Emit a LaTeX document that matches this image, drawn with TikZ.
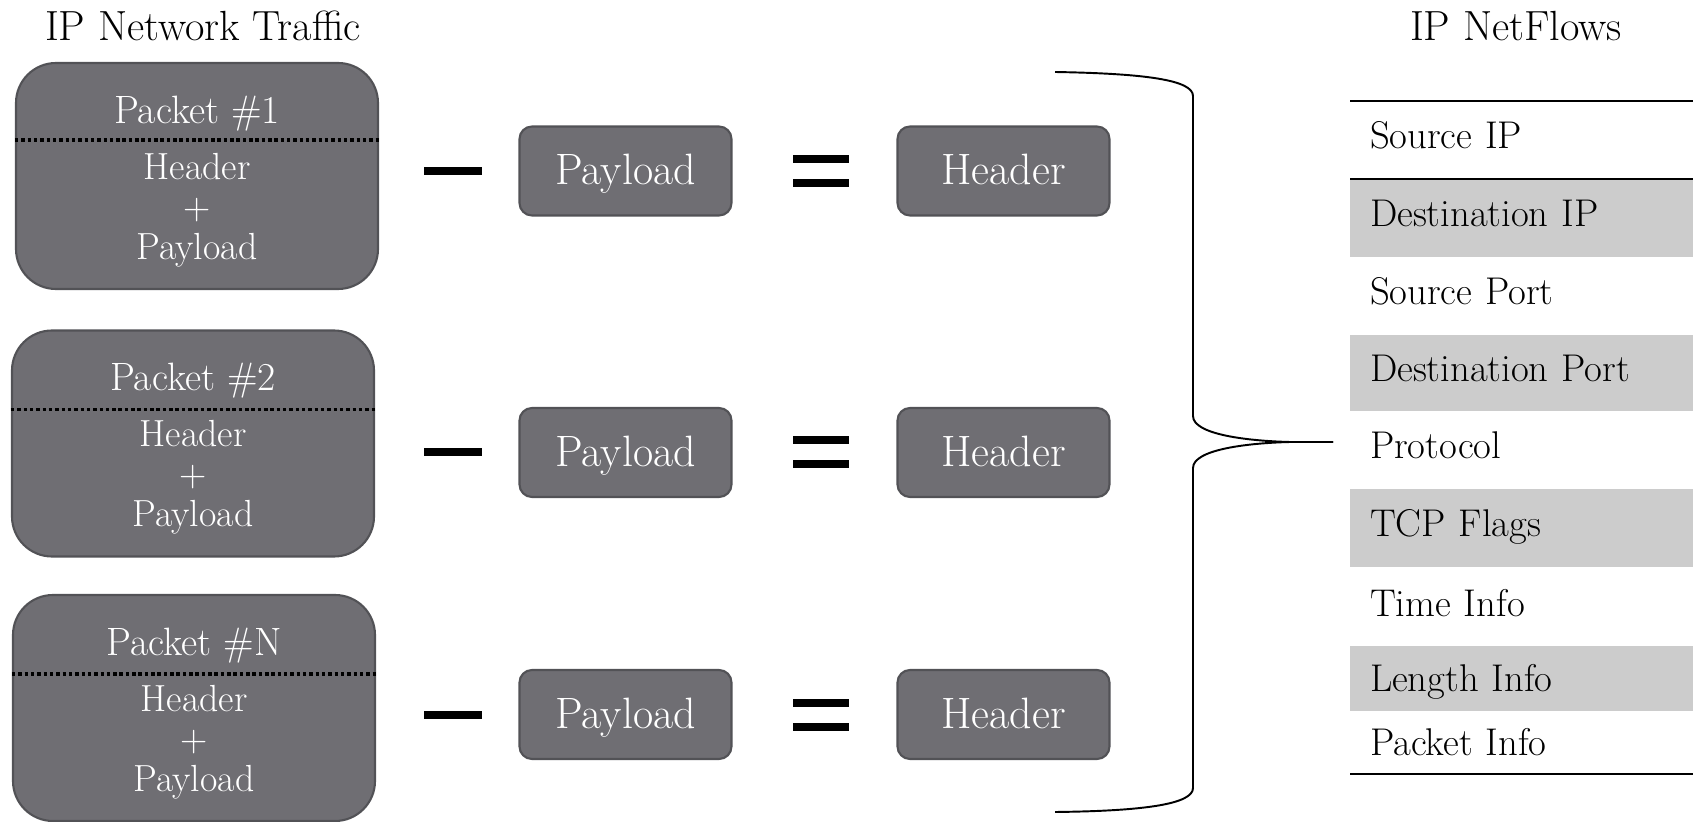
\documentclass[tikz,border=0pt]{standalone}
\usepackage{fontspec}
\usepackage{tikz}
\usetikzlibrary{positioning}
\definecolor{NfBoxGray}{RGB}{111,110,115}
\definecolor{NfEdgeGray}{RGB}{82,82,86}
\definecolor{NfRowGray}{RGB}{204,204,204}
\tikzset{
  nf/packet/.style={
    draw=NfEdgeGray,
    line width=1.2pt,
    rounded corners=0.8cm,
    fill=NfBoxGray,
    minimum width=7.24cm,
    minimum height=4.52cm
  },
  nf/pkttitle/.style={text=white, inner sep=0pt, font=\fontsize{22.5}{26}\selectfont},
  nf/pktbody/.style={text=white, inner sep=0pt, align=center, font=\fontsize{21.5}{22.8}\selectfont},
  nf/pktline/.style={draw=black, line width=2pt, dash pattern=on 2pt off 1.6pt},
  nf/box/.style={
    draw=NfEdgeGray,
    line width=1.2pt,
    rounded corners=0.25cm,
    fill=NfBoxGray,
    text=white,
    minimum width=4.24cm,
    minimum height=1.78cm,
    text height=0.56cm,
    text depth=0pt,
    font=\fontsize{25}{29}\selectfont
  },
  nf/minus/.style={fill=black, inner sep=0pt, minimum width=1.16cm, minimum height=0.16cm},
  nf/eqbar/.style={fill=black, inner sep=0pt, minimum width=1.12cm, minimum height=0.16cm},
  nf/title/.style={font=\fontsize{24}{28}\selectfont},
  nf/row/.style={
    anchor=north west,
    outer sep=0pt,
    minimum width=6.86cm,
    text width=6.06cm,
    inner xsep=0.4cm,
    inner ysep=0pt,
    minimum height=1.56cm,
    text height=0.53cm,
    text depth=0.2cm,
    align=left,
    font=\fontsize{22}{26}\selectfont
  },
  nf/grayrow/.style={nf/row, fill=NfRowGray},
  nf/rule/.style={line width=1.6pt},
  nf/brace/.style={line width=1.1pt}
}
\begin{document}
\begin{tikzpicture}[x=1cm,y=1cm]
  \useasboundingbox (0,0) rectangle (33.86,16.42);

  \node[nf/title] (traffic) at (4.06,15.9) {IP Network Traffic};
  \node[nf/title] (netflows) at (30.32,15.9) {IP NetFlows};

  % packets
  \node[nf/packet] (p1) at (3.94,12.9) {};
  \node[nf/pkttitle] (p1title) at ([yshift=-1.03cm]p1.north) {Packet \#1};
  \draw[nf/pktline] ([yshift=-1.56cm]p1.north west) -- ([yshift=-1.56cm]p1.north east);
  \node[nf/pktbody] (p1body) at ([yshift=-2.96cm]p1.north) {Header\\+\\Payload};

  \node[nf/packet] (p2) at (3.86,7.55) {};
  \node[nf/pkttitle] (p2title) at ([yshift=-1.03cm]p2.north) {Packet \#2};
  \draw[nf/pktline] ([yshift=-1.6cm]p2.north west) -- ([yshift=-1.6cm]p2.north east);
  \node[nf/pktbody] (p2body) at ([yshift=-2.96cm]p2.north) {Header\\+\\Payload};

  \node[nf/packet] (pn) at (3.88,2.26) {};
  \node[nf/pkttitle] (pntitle) at ([yshift=-1.03cm]pn.north) {Packet \#N};
  \draw[nf/pktline] ([yshift=-1.6cm]pn.north west) -- ([yshift=-1.6cm]pn.north east);
  \node[nf/pktbody] (pnbody) at ([yshift=-2.96cm]pn.north) {Header\\+\\Payload};

  % minus payload equals header
  \node[nf/minus] (minus1) at (9.06,13.0) {};
  \node[nf/box] (pay1) at (12.51,13.0) {Payload};
  \node[nf/eqbar] (eq1a) at (16.42,13.24) {};
  \node[nf/eqbar] (eq1b) at (16.42,12.76) {};
  \node[nf/box] (head1) at (20.07,13.0) {Header};

  \node[nf/minus] (minus2) at (9.06,7.37) {};
  \node[nf/box] (pay2) at (12.51,7.37) {Payload};
  \node[nf/eqbar] (eq2a) at (16.42,7.61) {};
  \node[nf/eqbar] (eq2b) at (16.42,7.13) {};
  \node[nf/box] (head2) at (20.07,7.37) {Header};

  \node[nf/minus] (minus3) at (9.06,2.13) {};
  \node[nf/box] (pay3) at (12.51,2.13) {Payload};
  \node[nf/eqbar] (eq3a) at (16.42,2.37) {};
  \node[nf/eqbar] (eq3b) at (16.42,1.89) {};
  \node[nf/box] (head3) at (20.07,2.13) {Header};

  % brace
  \coordinate (bracetop) at (21.1,14.98);
  \coordinate (bracebot) at (21.1,0.18);
  \coordinate (bracetip) at (26.66,7.58);
  \draw[nf/brace] (bracetop) .. controls (22.9,14.95) and (23.86,14.82) .. (23.86,14.5)
    -- (23.86,8.1) .. controls (23.86,7.72) and (25.0,7.6) .. (25.8,7.58) -- (bracetip);
  \draw[nf/brace] (bracetip) -- (25.8,7.58) .. controls (25.0,7.56) and (23.86,7.44) .. (23.86,7.06)
    -- (23.86,0.66) .. controls (23.86,0.34) and (22.9,0.2) .. (bracebot);

  % netflow fields
  \node[nf/row] (srcip) at (27.0,14.4) {Source IP};
  \node[nf/grayrow, below=0pt of srcip] (dstip) {Destination IP};
  \node[nf/row, below=0pt of dstip] (srcport) {Source Port};
  \node[nf/grayrow, below=0pt of srcport, minimum height=1.52cm] (dstport) {Destination Port};
  \node[nf/row, below=0pt of dstport] (proto) {Protocol};
  \node[nf/grayrow, below=0pt of proto] (flags) {TCP Flags};
  \node[nf/row, below=0pt of flags, minimum height=1.58cm, text depth=0.15cm] (timeinfo) {Time Info};
  \node[nf/grayrow, below=0pt of timeinfo, minimum height=1.3cm, text depth=0pt] (leninfo) {Length Info};
  \node[nf/row, below=0pt of leninfo, minimum height=1.26cm, text depth=0pt] (pktinfo) {Packet Info};
  \draw[nf/rule] (srcip.north west) -- (srcip.north east);
  \draw[nf/rule] (srcip.south west) -- (srcip.south east);
  \draw[nf/rule] (pktinfo.south west) -- (pktinfo.south east);
\end{tikzpicture}
\end{document}
